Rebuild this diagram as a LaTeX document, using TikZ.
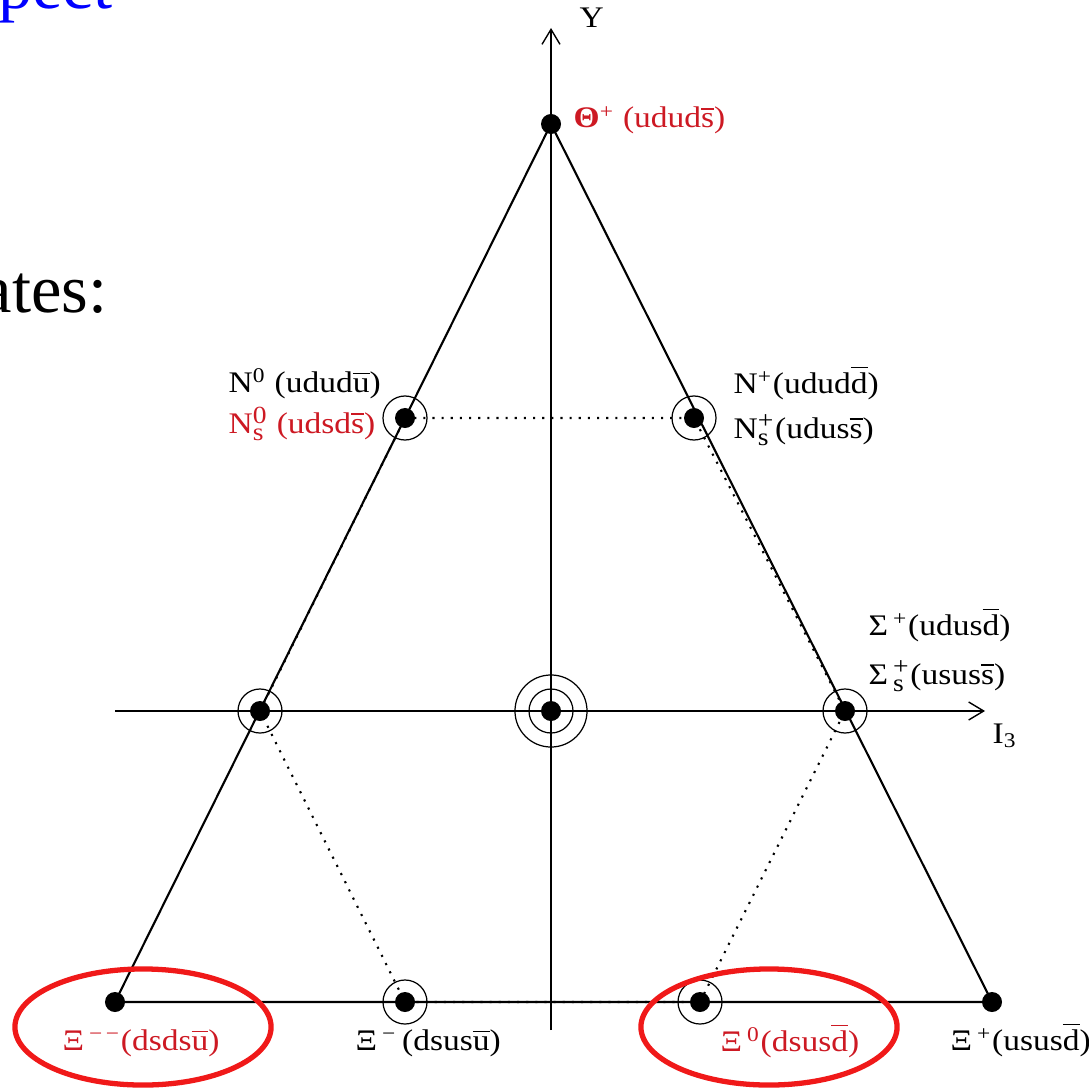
\documentclass[tikz,border=0pt]{standalone}
\usepackage{fontspec}
\setmainfont{Liberation Serif}
\newfontfamily\lblfont[FakeStretch=1.12]{Liberation Serif}
\usetikzlibrary{
  arrows.meta,              % 坐标轴开口箭头
  positioning               % 节点相对定位
}
\definecolor{quarkred}{RGB}{205,25,35}
\definecolor{ringred}{RGB}{240,25,25}
\newcommand\qbar[1]{$\overline{\hbox{#1}}$}
\newcommand\supsub[2]{$^{\hbox{\scriptsize #1}}_{\hbox{\scriptsize #2}}$}
\tikzset{
  state dot/.style={
    circle,
    fill=black,
    inner sep=0pt,
    minimum size=0.2cm
  },
  ring/.style={
    circle,
    draw=black,
    line width=0.35pt,
    inner sep=0pt,
    minimum size=0.44cm
  },
  big ring/.style={
    ring,
    minimum size=0.72cm
  },
  edge line/.style={
    line width=0.6pt
  },
  hex line/.style={
    dotted,
    line width=0.6pt
  },
  axis/.style={
    -{Straight Barb[length=0.15cm,width=0.18cm]},
    line width=0.4pt
  },
  state label/.style={
    font=\lblfont\fontsize{8.5pt}{10pt}\selectfont,
    inner sep=0pt,
    anchor=base west
  },
  red label/.style={
    state label,
    text=quarkred
  },
  hilite/.style={
    draw=ringred,
    line width=1.5pt
  },
  slide text/.style={
    font=\fontsize{19.5pt}{24pt}\selectfont,
    inner sep=0pt,
    anchor=base east
  }
}

\begin{document}
\begin{tikzpicture}[x=0.01cm, y=-0.01cm]
    \useasboundingbox (0,0) rectangle (1089,1091);

    % 幻灯片上被截去的文字
    \node[slide text, text=blue] (txtExpect) at (113,9) {xpect};
    \node[slide text] (txtStates) at (108,312) {ates:};

    % 十个态的位置
    \node[state dot] (theta)  at (551,124)  {};
    \node[state dot] (nzero)  at (405,418)  {};
    \node[state dot] (nplus)  at (694,418)  {};
    \node[state dot] (sigl)   at (260,711)  {};
    \node[state dot] (centre) at (551,711)  {};
    \node[state dot] (sigp)   at (845,711)  {};
    \node[state dot] (ximm)   at (115,1002) {};
    \node[state dot] (ximz)   at (405,1002) {};
    \node[state dot] (xiz)    at (700,1002) {};
    \node[state dot] (xip)    at (992,1002) {};

    % 坐标轴 Y 与 I3
    \coordinate (ybot) at (551,1030);
    \coordinate (ytop) at (551,28);
    \coordinate (xleft) at (115,711);
    \coordinate (xright) at (985,711);
    \draw[axis] (ybot) -- (ytop);
    \draw[axis] (xleft) -- (xright);
    \node[state label] (ylab) at (579,28) {Y};
    \node[state label] (ilab) at (992,743) {I\textsubscript{3}};

    % 大三角形
    \draw[edge line] (theta.center) -- (ximm.center) -- (xip.center) -- cycle;

    % 虚线六边形
    \draw[hex line] (nzero.center) -- (nplus.center) -- (sigp.center)
      -- (xiz.center) -- (ximz.center) -- (sigl.center) -- cycle;

    % 简并态的圆圈
    \foreach \p in {nzero,nplus,sigl,centre,sigp,ximz,xiz}
      \node[ring] at (\p) {};
    \node[big ring] at (centre) {};

    % 各态的标签
    \node[red label] (lTheta) at (573,128) {{\bfseries Θ}\textsuperscript{+} (udud\qbar{s})};
    \node[state label] (lNzero) at (228,392) {N\textsuperscript{0} (udud\qbar{u})};
    \node[red label] (lNszero) at (228,433) {N\supsub{0}{s} (udsd\qbar{s})};
    \node[state label] (lNplus) at (733,393) {N\textsuperscript{+}(udud\qbar{d})};
    \node[state label] (lNsplus) at (733,438) {N\supsub{+}{s}(udus\qbar{s})};
    \node[state label] (lSig) at (868,635) {Σ\,\textsuperscript{+}(udus\qbar{d})};
    \node[state label] (lSigs) at (868,684) {Σ\,\supsub{+}{s}(usus\qbar{s})};
    \node[red label] (lXimm) at (62,1050) {Ξ\,\textsuperscript{−\,−}(dsds\qbar{u})};
    \node[state label] (lXimz) at (355,1050) {Ξ\,\textsuperscript{−}\,(dsus\qbar{u})};
    \node[red label] (lXiz) at (720,1051) {Ξ\,\textsuperscript{0}(dsus\qbar{d})};
    \node[state label] (lXip) at (950,1050) {Ξ\,\textsuperscript{+}(usus\qbar{d})};

    % 红色椭圆标记
    \draw[hilite] (143,1027) ellipse [x radius=1.28cm, y radius=0.58cm];
    \draw[hilite] (769,1027) ellipse [x radius=1.28cm, y radius=0.58cm];

\end{tikzpicture}
\end{document}
